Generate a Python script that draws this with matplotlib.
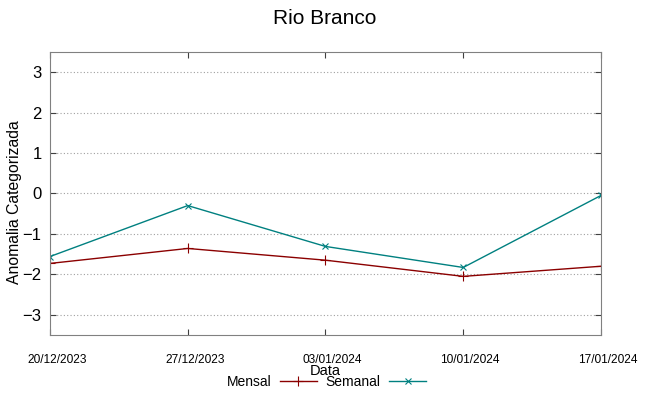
import matplotlib
matplotlib.use("Agg")
import matplotlib.pyplot as plt
import matplotlib.dates as mdates
import matplotlib.transforms as mtransforms
import pandas as pd

plt.rcParams["font.family"] = ["Liberation Sans", "DejaVu Sans"]

# dados
datas = ["2023-12-20", "2023-12-27", "2024-01-03", "2024-01-10", "2024-01-17"]
mensal = [-1.73, -1.36, -1.65, -2.05, -1.80]
semanal = [-1.56, -0.30, -1.31, -1.83, -0.05]
yticks = [-3, -2, -1, 0, 1, 2, 3]

x = pd.to_datetime(datas)

fig = plt.figure(figsize=(6.49, 3.96), dpi=100)
ax = fig.add_axes([0.077, 0.154, 0.849, 0.715])

ax.plot(x, mensal, color="#8b0000", lw=1, marker="+", ms=7, mew=0.8, label="Mensal")
ax.plot(x, semanal, color="#008080", lw=1, marker="x", ms=5, mew=0.8, label="Semanal")

ax.set_xlim(x[0], x[-1])
ax.set_ylim(-3.5, 3.5)
ax.set_yticks(yticks)
ax.set_xticks(x)
ax.xaxis.set_major_formatter(mdates.DateFormatter("%d/%m/%Y"))

ax.grid(axis="y", color="#a0a0a0", ls=(0, (1, 2)), lw=0.8)
ax.tick_params(direction="in", top=True, right=True, length=4, color="#404040")
ax.tick_params(axis="y", labelsize=12, pad=6)
ax.tick_params(axis="x", labelsize=8.6, pad=14)
for s in ax.spines.values():
    s.set_color("#808080")

# rotulos do eixo x levemente deslocados para a direita (estilo gnuplot)
desloc = mtransforms.ScaledTranslation(7 / 100, 0, fig.dpi_scale_trans)
for lbl in ax.get_xticklabels():
    lbl.set_transform(lbl.get_transform() + desloc)

ax.set_ylabel("Anomalia Categorizada", fontsize=11.3)
ax.yaxis.set_label_coords(-0.05, 0.47)
ax.set_xlabel("Data", fontsize=10.5, labelpad=-2)

fig.suptitle("Rio Branco", fontsize=15, y=0.978)

fig.legend(loc="center", bbox_to_anchor=(0.503, 0.035), ncol=2, frameon=False,
           markerfirst=False, fontsize=10, handlelength=2.7, columnspacing=0.6,
           handletextpad=0.6, borderaxespad=0)

fig.savefig("out.png", dpi=100)
